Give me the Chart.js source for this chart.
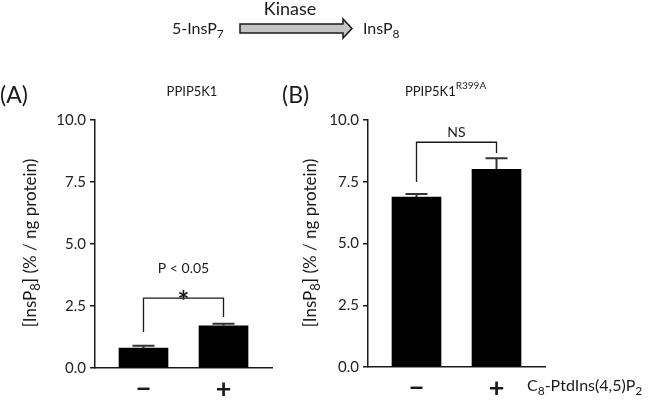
<!DOCTYPE html>
<html>
<head>
<meta charset="utf-8">
<script src="https://cdn.jsdelivr.net/npm/chart.js@4.4.1/dist/chart.umd.min.js"></script>
<style>
  html, body { margin: 0; padding: 0; background: #fff; }
  #wrap { position: relative; width: 650px; height: 401px; }
  canvas { position: absolute; left: 0; top: 0; }
</style>
</head>
<body>
<div id="wrap">
  <canvas id="panelA" width="650" height="401"></canvas>
  <canvas id="panelB" width="650" height="401"></canvas>
</div>
<script>
// data
const groups = [1, 2];
const treatmentLabels = ['\u2212', '+'];
const yTickValues = [0, 2.5, 5, 7.5, 10];

const wildTypeMean = [0.8, 1.7];
const wildTypeSem = [0.1, 0.08];
const mutantMean = [6.88, 8.0];
const mutantSem = [0.12, 0.45];

// bracket levels: top, left leg end, right leg end
const wildTypeBracket = [2.82, 1.45, 2.06];
const mutantBracket = [9.1, 7.49, 8.66];

const FONT = 'Lato, "Open Sans", sans-serif';
const INK = '#1a1a1a';

// draw a row of text pieces (for sub/superscripts)
function richText(ctx, parts, x, y, align) {
  let total = 0;
  parts.forEach(p => {
    ctx.font = (p.weight || '') + ' ' + p.size + 'px ' + FONT;
    p.w = ctx.measureText(p.t).width;
    total += p.w;
  });
  let cx = align === 'center' ? x - total / 2 : x;
  ctx.textAlign = 'left';
  ctx.textBaseline = 'middle';
  parts.forEach(p => {
    ctx.font = (p.weight || '') + ' ' + p.size + 'px ' + FONT;
    ctx.fillText(p.t, cx, y + (p.dy || 0));
    cx += p.w;
  });
}

const yTitleParts = () => [
  { t: '[InsP', size: 17 },
  { t: '8', size: 13, dy: 5 },
  { t: '] (% / ng protein)', size: 17 }
];

function makeErrorBars(mean, sem) {
  return {
    id: 'errorBars',
    afterDatasetsDraw(chart) {
      const { ctx, scales: { x, y } } = chart;
      ctx.save();
      ctx.strokeStyle = '#333';
      ctx.lineWidth = 2;
      mean.forEach((m, i) => {
        const px = x.getPixelForValue(groups[i]);
        const base = y.getPixelForValue(m);
        const top = y.getPixelForValue(m + sem[i]);
        ctx.beginPath();
        ctx.moveTo(px, base);
        ctx.lineTo(px, top);
        ctx.moveTo(px - 11, top);
        ctx.lineTo(px + 11, top);
        ctx.stroke();
      });
      ctx.restore();
    }
  };
}

function makeBracket(levels, drawLabel) {
  return {
    id: 'bracket',
    afterDatasetsDraw(chart) {
      const { ctx, scales: { x, y } } = chart;
      const x1 = x.getPixelForValue(groups[0]);
      const x2 = x.getPixelForValue(groups[1]);
      const top = y.getPixelForValue(levels[0]);
      ctx.save();
      ctx.strokeStyle = INK;
      ctx.lineWidth = 1.3;
      ctx.beginPath();
      ctx.moveTo(x1, y.getPixelForValue(levels[1]));
      ctx.lineTo(x1, top);
      ctx.lineTo(x2, top);
      ctx.lineTo(x2, y.getPixelForValue(levels[2]));
      ctx.stroke();
      ctx.fillStyle = INK;
      drawLabel(ctx, (x1 + x2) / 2, top);
      ctx.restore();
    }
  };
}

// static figure text for panel A (and the scheme on top)
const decorA = {
  id: 'decorA',
  afterDraw(chart) {
    const ctx = chart.ctx;
    ctx.save();
    ctx.fillStyle = INK;
    // kinase scheme
    ctx.font = '18px ' + FONT;
    ctx.textAlign = 'center';
    ctx.textBaseline = 'middle';
    ctx.fillText('Kinase', 290, 9);
    richText(ctx, [{ t: '5-InsP', size: 16 }, { t: '7', size: 12, dy: 6 }], 172, 28.5, 'left');
    richText(ctx, [{ t: 'InsP', size: 16 }, { t: '8', size: 12, dy: 6 }], 363, 28.5, 'left');
    ctx.beginPath();
    ctx.moveTo(240, 24);
    ctx.lineTo(343, 24);
    ctx.lineTo(343, 19);
    ctx.lineTo(352, 28.5);
    ctx.lineTo(343, 38);
    ctx.lineTo(343, 33);
    ctx.lineTo(240, 33);
    ctx.closePath();
    ctx.fillStyle = '#c4c4c4';
    ctx.fill();
    ctx.strokeStyle = INK;
    ctx.lineWidth = 1.5;
    ctx.stroke();
    ctx.fillStyle = INK;
    // panel letter and title
    ctx.font = '23px ' + FONT;
    ctx.textAlign = 'left';
    ctx.fillText('(A)', 0, 96);
    ctx.font = '13px ' + FONT;
    ctx.textAlign = 'center';
    ctx.fillText('PPIP5K1', 192, 92);
    // y title
    ctx.translate(31, 243);
    ctx.rotate(-Math.PI / 2);
    richText(ctx, yTitleParts(), 0, 0, 'center');
    ctx.restore();
  }
};

const decorB = {
  id: 'decorB',
  afterDraw(chart) {
    const ctx = chart.ctx;
    ctx.save();
    ctx.fillStyle = INK;
    ctx.font = '23px ' + FONT;
    ctx.textAlign = 'left';
    ctx.textBaseline = 'middle';
    ctx.fillText('(B)', 282, 96);
    richText(ctx, [{ t: 'PPIP5K1', size: 13 }, { t: 'R399A', size: 10, dy: -6 }], 405, 92, 'left');
    richText(ctx, [
      { t: 'C', size: 16 }, { t: '8', size: 12, dy: 5 },
      { t: '-PtdIns(4,5)P', size: 16 }, { t: '2', size: 12, dy: 5 }
    ], 527, 386, 'left');
    ctx.translate(311, 243);
    ctx.rotate(-Math.PI / 2);
    richText(ctx, yTitleParts(), 0, 0, 'center');
    ctx.restore();
  }
};

function panelConfig(mean, yAxisWidth, rightPad, xAxisHeight, plugins) {
  return {
    type: 'bar',
    data: {
      datasets: [{
        data: groups.map((g, i) => ({ x: g, y: mean[i] })),
        backgroundColor: '#000',
        borderWidth: 0,
        barThickness: 49
      }]
    },
    options: {
      responsive: false,
      animation: false,
      layout: { padding: { left: 0, top: 120, right: rightPad, bottom: 0 } },
      plugins: { legend: { display: false }, tooltip: { enabled: false } },
      scales: {
        x: {
          type: 'linear',
          offset: false,
          min: 0.394,
          max: 2.606,
          afterBuildTicks: scale => { scale.ticks = groups.map(v => ({ value: v })); },
          afterFit: scale => { scale.height = xAxisHeight; },
          grid: { display: false, offset: false },
          border: { display: true, color: INK, width: 1.5 },
          ticks: {
            autoSkip: false,
            padding: -3,
            color: INK,
            font: { family: FONT, size: 27, weight: 'bold' },
            callback: v => treatmentLabels[groups.indexOf(v)]
          }
        },
        y: {
          min: 0,
          max: 10,
          afterBuildTicks: scale => { scale.ticks = yTickValues.map(v => ({ value: v })); },
          afterFit: scale => { scale.width = yAxisWidth; },
          grid: { display: true, drawOnChartArea: false, drawTicks: true, tickLength: 5, color: INK, lineWidth: 1.5 },
          border: { display: true, color: INK, width: 1.5 },
          ticks: {
            padding: 4,
            color: '#222',
            font: { family: FONT, size: 15 },
            callback: v => v.toFixed(1)
          }
        }
      }
    },
    plugins: plugins
  };
}

new Chart(document.getElementById('panelA'), panelConfig(wildTypeMean, 95, 650 - 272, 401 - 368, [
  makeErrorBars(wildTypeMean, wildTypeSem),
  makeBracket(wildTypeBracket, (ctx, cx, top) => {
    ctx.textAlign = 'center';
    ctx.textBaseline = 'middle';
    ctx.font = '14px ' + FONT;
    ctx.fillText('P < 0.05', cx, top - 30);
    ctx.font = 'bold 28px ' + FONT;
    ctx.textBaseline = 'alphabetic';
    ctx.fillText('*', cx, top + 13);
  }),
  decorA
]));

new Chart(document.getElementById('panelB'), panelConfig(mutantMean, 368, 650 - 545, 401 - 367, [
  makeErrorBars(mutantMean, mutantSem),
  makeBracket(mutantBracket, (ctx, cx, top) => {
    ctx.textAlign = 'center';
    ctx.textBaseline = 'middle';
    ctx.font = '14px ' + FONT;
    ctx.fillText('NS', cx, top - 10);
  }),
  decorB
]));
</script>
</body>
</html>
